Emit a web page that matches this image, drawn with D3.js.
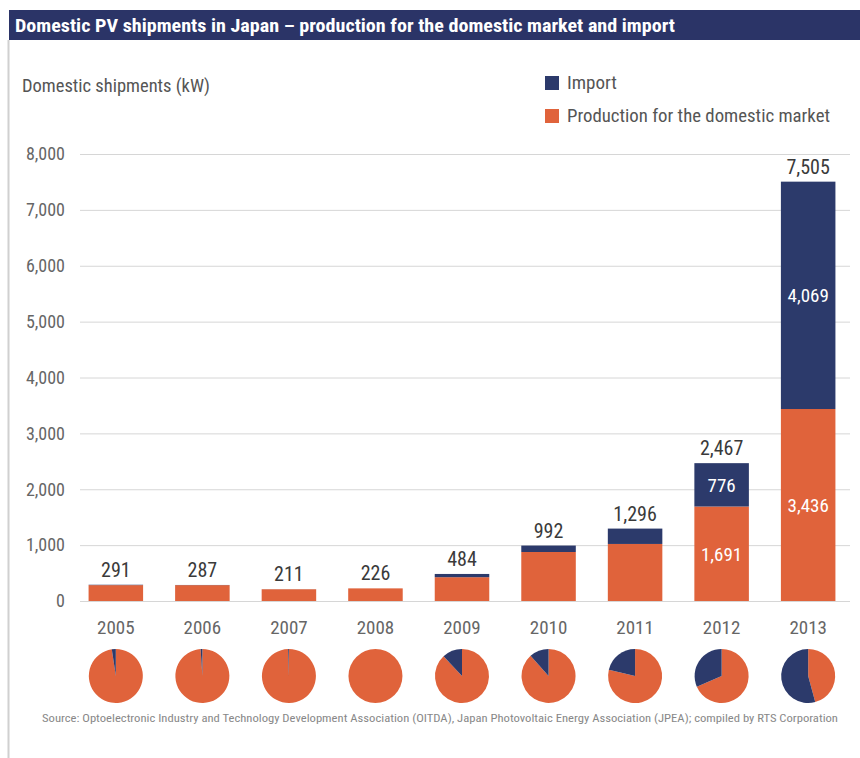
<!DOCTYPE html>
<html>
<head>
<meta charset="utf-8">
<script src="https://cdn.jsdelivr.net/npm/d3@7"></script>
<style>
  html, body { margin: 0; padding: 0; background: #fff; }
  svg { display: block; }
  text { font-family: "Liberation Sans Narrow", "Roboto Condensed", "Liberation Sans", sans-serif; }
</style>
</head>
<body>
<svg id="chart" width="860" height="758"></svg>
<script>
// Domestic PV shipments in Japan (kW), split into import and domestic production
const years = ["2005", "2006", "2007", "2008", "2009", "2010", "2011", "2012", "2013"];
const production = [284, 284, 210, 226, 426, 877, 1021, 1691, 3436];
const imports = [7, 3, 1, 0, 58, 115, 275, 776, 4069];
const totals = [291, 287, 211, 226, 484, 992, 1296, 2467, 7505];
const yTicks = [0, 1000, 2000, 3000, 4000, 5000, 6000, 7000, 8000];
const innerLabelYears = ["2012", "2013"];

const colors = { import: "#2c3a6b", production: "#e0633b" };
const fmt = d3.format(",");

const svg = d3.select("#chart");

// Frame: title band and left rule
svg.append("rect").attr("x", 9).attr("y", 10).attr("width", 851).attr("height", 30).attr("fill", "#2b3467");
svg.append("line").attr("x1", 8.5).attr("x2", 8.5).attr("y1", 40).attr("y2", 758)
  .attr("stroke", "#d0d0d0").attr("stroke-width", 2);
svg.append("text").attr("x", 15).attr("y", 32)
  .attr("fill", "#fff").attr("font-size", 19).attr("font-weight", "bold")
  .attr("textLength", 660).attr("lengthAdjust", "spacingAndGlyphs")
  .text("Domestic PV shipments in Japan \u2013 production for the domestic market and import");

// Axis title
svg.append("text").attr("x", 22).attr("y", 92)
  .attr("fill", "#555").attr("font-size", 18)
  .attr("textLength", 188).attr("lengthAdjust", "spacingAndGlyphs")
  .text("Domestic shipments (kW)");

// Legend
const legend = [
  { key: "import", label: "Import", y: 83, w: 50 },
  { key: "production", label: "Production for the domestic market", y: 116, w: 263 }
];
const lg = svg.append("g");
lg.selectAll("rect").data(legend).join("rect")
  .attr("x", 545).attr("y", d => d.y - 7).attr("width", 14).attr("height", 14)
  .attr("fill", d => colors[d.key]);
lg.selectAll("text").data(legend).join("text")
  .attr("x", 567).attr("y", d => d.y + 6)
  .attr("fill", "#555").attr("font-size", 18)
  .attr("textLength", d => d.w).attr("lengthAdjust", "spacingAndGlyphs")
  .text(d => d.label);

// Scales
const x = d3.scaleBand().domain(years).range([73, 851]).paddingInner(0.37).paddingOuter(0.18);
const y = d3.scaleLinear().domain([0, 8000]).range([601, 154]);

// Grid lines
svg.append("g").selectAll("line").data(yTicks).join("line")
  .attr("x1", 80).attr("x2", 850)
  .attr("y1", d => y(d) + 0.5).attr("y2", d => y(d) + 0.5)
  .attr("stroke", "#d6d6d6").attr("stroke-width", 1);

// Y axis labels
const yAxis = d3.axisLeft(y).tickValues(yTicks).tickFormat(fmt).tickSize(0).tickPadding(0);
const ya = svg.append("g").attr("transform", "translate(65,0)").call(yAxis);
ya.select(".domain").remove();
ya.selectAll("text").attr("fill", "#666").attr("font-size", 18)
  .attr("font-family", "'Liberation Sans Narrow', 'Roboto Condensed', sans-serif");

// Stacked bars
const rows = years.map((yr, i) => ({ year: yr, production: production[i], import: imports[i], total: totals[i] }));
const stack = d3.stack().keys(["production", "import"])(rows);
svg.append("g").selectAll("g").data(stack).join("g")
  .attr("fill", d => colors[d.key])
  .selectAll("rect").data(d => d).join("rect")
  .attr("x", d => x(d.data.year))
  .attr("width", x.bandwidth())
  .attr("y", d => y(d[1]))
  .attr("height", d => y(d[0]) - y(d[1]));

// Totals above bars
svg.append("g").selectAll("text").data(rows).join("text")
  .attr("x", d => x(d.year) + x.bandwidth() / 2)
  .attr("y", d => y(d.total) - 8)
  .attr("text-anchor", "middle").attr("fill", "#3a3a3a").attr("font-size", 20)
  .text(d => fmt(d.total));

// Segment values inside the two largest bars
const inner = [];
stack.forEach(s => s.forEach(d => {
  if (innerLabelYears.includes(d.data.year)) inner.push({ year: d.data.year, lo: d[0], hi: d[1], v: d[1] - d[0] });
}));
svg.append("g").selectAll("text").data(inner).join("text")
  .attr("x", d => x(d.year) + x.bandwidth() / 2)
  .attr("y", d => (y(d.lo) + y(d.hi)) / 2 + 7)
  .attr("text-anchor", "middle").attr("fill", "#fff").attr("font-size", 19)
  .text(d => fmt(d.v));

// Year labels
const xAxis = d3.axisBottom(x).tickSize(0).tickPadding(0);
const xa = svg.append("g").attr("transform", "translate(0,620)").call(xAxis);
xa.select(".domain").remove();
xa.selectAll("text").attr("fill", "#666").attr("font-size", 19)
  .attr("font-family", "'Liberation Sans Narrow', 'Roboto Condensed', sans-serif");

// Share pies: import counter-clockwise from 12 o'clock, production clockwise
const arc = d3.arc().innerRadius(0).outerRadius(27);
const pies = svg.append("g").selectAll("g").data(rows).join("g")
  .attr("transform", d => `translate(${x(d.year) + x.bandwidth() / 2},676)`);
pies.each(function (d) {
  const share = d.import / (d.import + d.production);
  const a = share * 2 * Math.PI;
  const g = d3.select(this);
  g.append("path").attr("d", arc({ startAngle: 0, endAngle: 2 * Math.PI - a })).attr("fill", colors.production);
  if (a > 0) g.append("path").attr("d", arc({ startAngle: -a, endAngle: 0 })).attr("fill", colors.import);
});

// Source note
svg.append("text").attr("x", 42).attr("y", 722)
  .attr("fill", "#888").attr("font-size", 11)
  .attr("textLength", 796).attr("lengthAdjust", "spacingAndGlyphs")
  .text("Source: Optoelectronic Industry and Technology Development Association (OITDA), Japan Photovoltaic Energy Association (JPEA); compiled by RTS Corporation");
</script>
</body>
</html>
